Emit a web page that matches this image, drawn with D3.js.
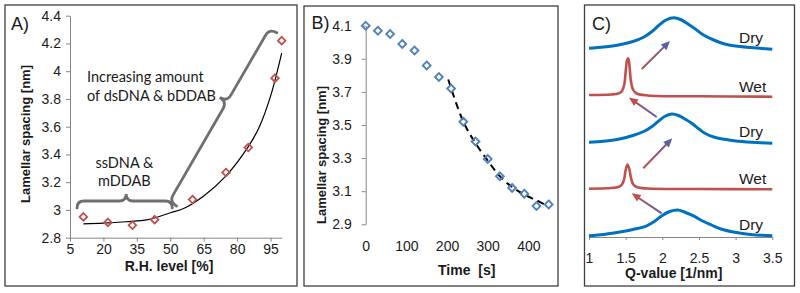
<!DOCTYPE html>
<html><head><meta charset="utf-8">
<script src="https://cdn.jsdelivr.net/npm/d3@7"></script>
<style>body{margin:0;background:#fff}svg{display:block}</style>
</head><body><svg id="c" width="800" height="293"></svg>
<script>
// ---------- Panel A data ----------
const rhLevels  = [11, 22, 33, 43, 60, 75, 85, 97, 100];
const rhSpacing = [2.95, 2.91, 2.89, 2.93, 3.075, 3.27, 3.45, 3.95, 4.22];
const rhFitX = [11, 20, 30, 40, 50, 56, 65, 75, 85, 90, 95, 100];
const rhFitY = [2.90, 2.905, 2.915, 2.93, 2.98, 3.01, 3.10, 3.245, 3.456, 3.60, 3.82, 4.13];
const rhTicksX = [5, 20, 35, 50, 65, 80, 95];
const rhTicksY = [2.8, 3, 3.2, 3.4, 3.6, 3.8, 4, 4.2, 4.4];
// ---------- Panel B data ----------
const timeS = [0, 30, 60, 90, 120, 150, 180, 210, 240, 270, 300, 330, 360, 390, 420, 450];
const timeSpacing = [4.10, 4.07, 4.05, 3.99, 3.95, 3.86, 3.79, 3.72, 3.52, 3.40, 3.295, 3.19, 3.12, 3.085, 3.01, 3.02];
const timeFitX = [203, 240, 270, 300, 330, 360, 390, 420, 448];
const timeFitY = [3.775, 3.52, 3.39, 3.285, 3.19, 3.125, 3.08, 3.045, 3.01];
const timeTicksX = [0, 100, 200, 300, 400];
const timeTicksY = [2.9, 3.1, 3.3, 3.5, 3.7, 3.9, 4.1];
// ---------- Panel C data ----------
const qTicks = [1, 1.5, 2, 2.5, 3, 3.5];
const traceNames = ["Dry", "Wet", "Dry", "Wet", "Dry"];
const traceKinds = ["dry", "wet", "dry", "wet", "dry"];
const trace1Q = [1.0,1.2,1.4,1.6,1.75,1.85,1.95,2.05,2.16,2.25,2.35,2.45,2.55,2.7,2.85,3.0,3.2,3.5];
const trace1I = [188.7,190,192,195.5,200,205,211.5,217,219.3,217.5,213,208,202.5,197,193,191,189.5,187.7];
const trace2Q = [1.0,1.3,1.4,1.45,1.48,1.5,1.52,1.535,1.55,1.57,1.6,1.65,1.8,2.5,3.5];
const trace2I = [142,142.5,143.5,146,152,165,177,178.7,173,157,147.5,143.5,141.5,140.7,140.3];
const trace3Q = [1.0,1.2,1.4,1.6,1.76,1.85,1.94,2.03,2.13,2.22,2.32,2.4,2.5,2.58,2.7,2.85,3.0,3.22,3.5];
const trace3I = [94.7,95.7,97.7,101.5,106,110,115.3,120.5,123,121.5,117.5,113.7,108,103.7,100,97.7,96,94.7,93.7];
const trace4Q = [1.0,1.3,1.4,1.45,1.48,1.5,1.525,1.55,1.57,1.6,1.65,1.8,2.5,3.5];
const trace4I = [48.3,49,50,52.5,58,67,72.5,68,60,53,50,48.5,48,47.7];
const trace5Q = [1.0,1.2,1.4,1.6,1.76,1.9,1.99,2.1,2.21,2.3,2.445,2.55,2.67,2.8,2.99,3.2,3.5];
const trace5I = [1.3,2.5,4.7,7.5,10.3,16,21,25.5,27,25,20.3,16,12,8,4.7,2.5,1.3];
const labelQ = 3.045;
const labelI = [199, 150.3, 105.3, 58.7, 12];
// arrows: [tailQ, tailI, headQ, headI, tailKind]
const arrowTailQ = [1.719, 1.923, 1.74, 1.991];
const arrowTailI = [168, 120, 68.7, 23.7];
const arrowHeadQ = [2.105, 1.545, 2.136, 1.582];
const arrowHeadI = [196, 139.5, 98.7, 43.7];
const arrowFrom  = ["wet", "dry", "wet", "dry"];

const svg = d3.select("#c");
const NUM = "'Liberation Sans', Arial, sans-serif";
const ANN = "Lato, 'Open Sans', sans-serif";
const AX = "#868686", TXT = "#1a1a1a";
const RED = "#c0504d", BLUE_M = "#4f81bd", BLUE_L = "#0070c0", PURP = "#5d5fa0";

// frames
[[5,5,292,281],[304,6,254,280],[584.5,5,210,281]].forEach(r=>{
  svg.append("rect").attr("x",r[0]).attr("y",r[1]).attr("width",r[2]).attr("height",r[3])
    .attr("fill","none").attr("stroke","#3f3f3f").attr("stroke-width",1.3);
});

function styleAxis(g){
  g.selectAll("path,line").attr("stroke",AX).attr("stroke-width",1);
  g.selectAll("text").attr("fill",TXT).attr("font-family",NUM).attr("font-size",14);
}
function diamond(r){ return `M0,${-r}L${r},0L0,${r}L${-r},0Z`; }

function brace(p1, p2, depth, frac, r){
  const dx=p2[0]-p1[0], dy=p2[1]-p1[1], L=Math.hypot(dx,dy);
  const u=[dx/L,dy/L], n=[u[1],-u[0]], h=depth/2;
  const P=(b,a,c)=>[b[0]+u[0]*a+n[0]*c, b[1]+u[1]*a+n[1]*c];
  const cb=P(p1,L*frac,0);
  const p=d3.path();
  p.moveTo(...p1);
  p.quadraticCurveTo(...P(p1,0,h), ...P(p1,r,h));
  p.lineTo(...P(cb,-r,h));
  p.quadraticCurveTo(...P(cb,0,h), ...P(cb,0,depth));
  p.quadraticCurveTo(...P(cb,0,h), ...P(cb,r,h));
  p.lineTo(...P(p2,-r,h));
  p.quadraticCurveTo(...P(p2,0,h), ...p2);
  return p.toString();
}

// ================= Panel A =================
const xA = d3.scaleLinear().domain([5,100]).range([70,281.7]);
const yA = d3.scaleLinear().domain([2.8,4.4]).range([237.7,15.7]);
const gA = svg.append("g");
gA.append("g").attr("transform",`translate(${xA.range()[0]},0)`)
  .call(d3.axisLeft(yA).tickValues(rhTicksY).tickFormat(d=>String(d)).tickSize(4).tickSizeOuter(0).tickPadding(5))
  .call(styleAxis);
gA.append("g").attr("transform",`translate(0,${yA.range()[0]})`)
  .call(d3.axisBottom(xA).tickValues(rhTicksX).tickFormat(d=>String(d)).tickSize(4).tickSizeOuter(0).tickPadding(2))
  .call(styleAxis);
gA.append("path").datum(rhFitX.map((x,i)=>[x,rhFitY[i]]))
  .attr("fill","none").attr("stroke","#000").attr("stroke-width",1.2)
  .attr("d", d3.line().x(d=>xA(d[0])).y(d=>yA(d[1])).curve(d3.curveCatmullRom));
gA.selectAll(".mA").data(rhLevels.map((x,i)=>[x,rhSpacing[i]])).enter().append("path")
  .attr("transform",d=>`translate(${xA(d[0])},${yA(d[1])})`).attr("d",diamond(3.8))
  .attr("fill","none").attr("stroke",RED).attr("stroke-width",1.8);
// braces
gA.append("path").attr("d",brace([xA(8.15),yA(3.014)],[xA(50.9),yA(3.014)],14,0.516,7))
  .attr("fill","none").attr("stroke","#6f6f6f").attr("stroke-width",2.8).attr("stroke-linecap","round");
gA.append("path").attr("d",brace([xA(52.8),yA(3.028)],[xA(97.8),yA(4.277)],17,0.577,8))
  .attr("fill","none").attr("stroke","#6f6f6f").attr("stroke-width",2.8).attr("stroke-linecap","round");
// annotations
const annA = [["Increasing amount",12.65,3.958,"start"],["of dsDNA & bDDAB",12.65,3.82,"start"],
              ["ssDNA &",29.4,3.34,"middle"],["mDDAB",29.4,3.21,"middle"]];
annA.forEach(a=>{
  gA.append("text").attr("x",xA(a[1])).attr("y",yA(a[2])).attr("dy","0.35em").attr("text-anchor",a[3])
    .attr("font-family",ANN).attr("font-size",14.5).attr("fill",TXT).text(a[0]);
});
gA.append("text").attr("x",11).attr("y",24).attr("dy","0.35em").attr("font-family",NUM).attr("font-size",18).attr("fill",TXT).text("A)");
gA.append("text").attr("x",169).attr("y",266).attr("dy","0.35em").attr("text-anchor","middle")
  .attr("font-family",NUM).attr("font-weight","bold").attr("font-size",14).attr("fill",TXT).text("R.H. level [%]");
gA.append("text").attr("transform","translate(25,134) rotate(-90)").attr("dy","0.35em").attr("text-anchor","middle")
  .attr("font-family",NUM).attr("font-weight","bold").attr("font-size",13).attr("fill",TXT).text("Lamellar spacing [nm]");

// ================= Panel B =================
const xB = d3.scaleLinear().domain([0,450]).range([365.7,548.7]);
const yB = d3.scaleLinear().domain([2.9,4.1]).range([224.3,25.7]);
const gB = svg.append("g");
gB.append("g").attr("transform",`translate(${xB.range()[0]},0)`)
  .call(d3.axisLeft(yB).tickValues(timeTicksY).tickFormat(d=>String(d)).tickSize(4).tickSizeOuter(0).tickPadding(10))
  .call(styleAxis);
const axB = gB.append("g").attr("transform",`translate(0,${yB.range()[0]})`)
  .call(d3.axisBottom(xB).tickValues(timeTicksX).tickFormat(d=>String(d)).tickSize(0).tickSizeOuter(0).tickPadding(17))
  .call(styleAxis);
axB.select(".domain").remove();
gB.append("path").datum(timeFitX.map((x,i)=>[x,timeFitY[i]]))
  .attr("fill","none").attr("stroke","#000").attr("stroke-width",2).attr("stroke-dasharray","7,5")
  .attr("d", d3.line().x(d=>xB(d[0])).y(d=>yB(d[1])).curve(d3.curveCatmullRom));
gB.selectAll(".mB").data(timeS.map((x,i)=>[x,timeSpacing[i]])).enter().append("path")
  .attr("transform",d=>`translate(${xB(d[0])},${yB(d[1])})`).attr("d",diamond(3.9))
  .attr("fill","none").attr("stroke",BLUE_M).attr("stroke-width",1.9);
gB.append("text").attr("x",311.5).attr("y",23).attr("dy","0.35em").attr("font-family",NUM).attr("font-size",18).attr("fill",TXT).text("B)");
gB.append("text").attr("x",466.7).attr("y",270).attr("dy","0.35em").attr("text-anchor","middle").attr("xml:space","preserve")
  .style("white-space","pre")
  .attr("font-family",NUM).attr("font-weight","bold").attr("font-size",14).attr("fill",TXT).text("Time  [s]");
gB.append("text").attr("transform","translate(321.7,155) rotate(-90)").attr("dy","0.35em").attr("text-anchor","middle")
  .attr("font-family",NUM).attr("font-weight","bold").attr("font-size",13).attr("fill",TXT).text("Lamellar spacing [nm]");

// ================= Panel C =================
const xC = d3.scaleLinear().domain([1,3.5]).range([589,772.3]);
const yC = d3.scaleLinear().domain([0,230]).range([237,7]);
const gC = svg.append("g");
gC.append("g").attr("transform",`translate(0,${yC.range()[0]})`)
  .call(d3.axisBottom(xC).tickValues(qTicks).tickFormat(d=>String(d)).tickSize(3).tickSizeOuter(0).tickPadding(13))
  .call(styleAxis);
const traces = [[trace1Q,trace1I],[trace2Q,trace2I],[trace3Q,trace3I],[trace4Q,trace4I],[trace5Q,trace5I]];
const lineC = d3.line().x(d=>xC(d[0])).y(d=>yC(d[1])).curve(d3.curveCatmullRom.alpha(0.5));
traces.forEach((t,k)=>{
  const dry = traceKinds[k]==="dry";
  gC.append("path").datum(t[0].map((q,i)=>[q,t[1][i]]))
    .attr("fill","none").attr("stroke",dry?BLUE_L:RED).attr("stroke-width",dry?3:2.6)
    .attr("stroke-linejoin","round").attr("d",lineC);
  gC.append("text").attr("x",xC(labelQ)).attr("y",yC(labelI[k])).attr("dy","0.35em")
    .attr("font-family",NUM).attr("font-size",15.5).attr("fill",TXT).text(traceNames[k]);
});
// arrows with gradient
const defs = svg.append("defs");
arrowTailQ.forEach((tq,i)=>{
  const x1=xC(tq), y1=yC(arrowTailI[i]), x2=xC(arrowHeadQ[i]), y2=yC(arrowHeadI[i]);
  const cTail = arrowFrom[i]==="wet"?RED:PURP, cHead = arrowFrom[i]==="wet"?PURP:RED;
  const id="ag"+i;
  const lg=defs.append("linearGradient").attr("id",id).attr("gradientUnits","userSpaceOnUse")
    .attr("x1",x1).attr("y1",y1).attr("x2",x2).attr("y2",y2);
  lg.append("stop").attr("offset","0%").attr("stop-color",cTail);
  lg.append("stop").attr("offset","100%").attr("stop-color",cHead);
  const L=Math.hypot(x2-x1,y2-y1), ux=(x2-x1)/L, uy=(y2-y1)/L, hl=9, hw=4;
  const bx=x2-ux*hl, by=y2-uy*hl;
  gC.append("line").attr("x1",x1).attr("y1",y1).attr("x2",bx+ux*1).attr("y2",by+uy*1)
    .attr("stroke",`url(#${id})`).attr("stroke-width",2);
  gC.append("path").attr("d",`M${x2},${y2}L${bx-uy*hw},${by+ux*hw}L${bx+uy*hw},${by-ux*hw}Z`).attr("fill",cHead);
});
gC.append("text").attr("x",592).attr("y",23.3).attr("dy","0.35em").attr("font-family",NUM).attr("font-size",18).attr("fill",TXT).text("C)");
gC.append("text").attr("x",673.7).attr("y",273.3).attr("dy","0.35em").attr("text-anchor","middle")
  .attr("font-family",NUM).attr("font-weight","bold").attr("font-size",14).attr("fill",TXT).text("Q-value [1/nm]");
</script></body></html>
